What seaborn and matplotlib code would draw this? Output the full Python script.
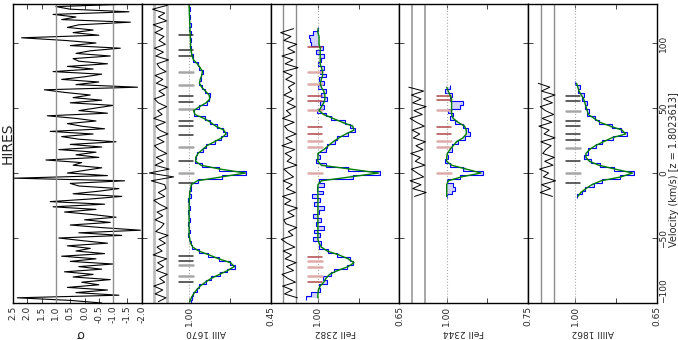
import numpy as np
import matplotlib
matplotlib.use('Agg')
import matplotlib.pyplot as plt
import seaborn as sns

sns.set_theme(style='white')
plt.rcParams['font.family'] = ['DejaVu Sans']
plt.rcParams['axes.edgecolor'] = 'black'
plt.rcParams['axes.linewidth'] = 1.0

### HIRES normalised residual panel (sigma), 2 km/s sampling
vel_sigma = np.arange(-100, 131, 2)
sigma_hires = [-0.6, 0.5, 2.35, -1.2, 0.3, -0.8, 0.6, -0.5, 0.1, -0.9,
               0.4, -0.3, 0.7, -0.6, 0.2, -1.0, 0.5, -0.4, 0.8, -0.7,
               0.3, -0.2, 0.6, -0.8, 0.1, 0.9, -1.3, 0.2, -1.95, -0.6,
               0.5, -0.9, 0.0, -1.1, -0.3, 0.7, -0.4, 1.1, -0.7, 1.2,
               -0.2, -1.3, 0.4, -0.5, -1.2, 0.2, 0.5, -1.4, 2.45, -0.8,
               0.6, 0.0, -0.6, 0.4, 0.1, 1.35, -0.5, 0.3, -0.4, 0.9,
               -0.6, 0.5, -1.1, 0.2, 0.8, -0.3, 1.2, -0.7, 0.1, 0.6,
               -0.4, 0.3, 1.3, -0.8, 0.2, -0.4, -1.0, 0.5, -0.6, 0.4,
               -0.2, 0.7, 1.4, -1.85, 0.3, -0.5, 0.8, 0.0, -0.6, 1.1,
               -0.3, 0.6, -0.8, 0.2, 0.4, -0.9, 0.3, -0.2, -1.25, 0.5,
               -0.4, 0.7, 2.2, -0.5, 0.4, -0.3, 0.6, 0.2, -1.6, 0.8,
               0.3, 1.1, -1.55, 0.5, 1.0, -1.6]

### AlII 1670 (3 km/s pixels)
vel_al2 = np.arange(-99, 130, 3)
model_al2 = [0.995, 0.985, 0.97, 0.95, 0.925, 0.89, 0.85, 0.795, 0.74, 0.695,
             0.72, 0.80, 0.865, 0.935, 0.975, 0.99, 0.995, 1.0, 1.0, 1.0,
             1.0, 1.0, 1.0, 1.0, 1.0, 1.0, 0.998, 0.997, 0.995, 0.99,
             0.985, 0.945, 0.78, 0.62, 0.79, 0.92, 0.955, 0.955, 0.94, 0.91,
             0.88, 0.83, 0.78, 0.75, 0.765, 0.82, 0.855, 0.90, 0.96, 0.97,
             0.93, 0.885, 0.86, 0.865, 0.89, 0.915, 0.93, 0.925, 0.915, 0.91,
             0.925, 0.945, 0.97, 0.98, 0.985, 0.99, 0.99, 0.99, 0.992, 0.993,
             0.994, 0.995, 0.996, 0.997, 0.998, 0.999, 1.0]
flux_al2 = [0.99, 0.98, 0.975, 0.945, 0.93, 0.885, 0.855, 0.79, 0.745, 0.69,
            0.725, 0.795, 0.87, 0.93, 0.98, 0.985, 1.0, 1.005, 0.995, 1.0,
            1.005, 0.995, 1.0, 1.01, 0.995, 1.0, 1.005, 0.99, 1.0, 0.985,
            0.99, 0.94, 0.775, 0.615, 0.795, 0.915, 0.96, 0.95, 0.945, 0.905,
            0.885, 0.825, 0.785, 0.745, 0.77, 0.815, 0.86, 0.895, 0.965, 0.965,
            0.935, 0.88, 0.865, 0.86, 0.895, 0.91, 0.935, 0.92, 0.92, 0.905,
            0.93, 0.94, 0.975, 0.975, 0.99, 0.985, 0.995, 0.985, 0.997, 0.99,
            1.0, 0.99, 1.0, 0.995, 1.003, 0.997, 1.0]
resid_al2 = [0.4, -0.8, 0.9, -0.3, 1.1, -0.6, 0.2, -1.0, 0.7, -0.4,
             0.5, -0.9, 1.2, -0.2, 0.6, -0.7, 0.3, -1.1, 0.8, 0.0,
             -0.5, 0.9, -0.3, 0.6, -1.0, 0.2, 1.1, -0.6, 0.4, -0.8,
             -0.6, 1.5, -2.0, 1.8, -1.3, 0.9, -0.4, 0.7, -0.9, 0.3,
             1.0, -0.5, 0.6, -1.1, 0.2, 0.8, -0.7, 1.1, -0.2, 0.5,
             -0.9, 0.4, 1.0, -0.6, 0.3, -1.0, 0.7, -0.3, 0.9, -0.8,
             0.2, 0.6, -1.2, 0.8, -0.4, 1.0, -0.7, 0.3, -0.5, 0.9,
             -0.3, 1.2, -0.9, 0.4, -0.6, 1.3, -1.0]
comp_al2 = [106, 95, 90, 78, 68, 59, 55, 49, 40, 36, 29.5, 20, 9, 0, -7.5,
            -64, -67.5, -71, -79.5, -83.5]
dark_al2 = [1, 1, 1, 0, 0, 1, 1, 0, 1, 1, 1, 0, 1, 0, 1, 1, 1, 0, 0, 1]

### FeII 2382
vel_fe82 = np.arange(-96, 112, 3)
model_fe82 = [1.0, 1.0, 0.998, 0.99, 0.975, 0.965, 0.95, 0.915, 0.87, 0.845,
              0.87, 0.91, 0.96, 0.985, 0.995, 1.0, 1.0, 1.0, 1.0, 1.0,
              1.0, 1.0, 1.0, 1.0, 1.0, 1.0, 1.0, 1.0, 1.0, 1.0,
              0.985, 0.86, 0.74, 0.86, 0.985, 1.0, 1.0, 1.0, 0.975, 0.955,
              0.935, 0.91, 0.88, 0.845, 0.85, 0.895, 0.935, 0.975, 0.995, 0.985,
              0.975, 0.97, 0.97, 0.975, 0.985, 0.99, 0.985, 0.98, 0.98, 0.985,
              0.99, 0.99, 0.99, 0.99, 0.99, 0.995, 0.995, 0.995, 1.0, 1.0]
flux_fe82 = [1.05, 1.03, 0.99, 0.995, 0.96, 0.98, 0.945, 0.93, 0.875, 0.85,
             0.86, 0.92, 0.955, 0.995, 0.985, 1.02, 0.99, 1.015, 0.975, 1.01,
             0.985, 1.02, 0.995, 0.975, 1.015, 0.99, 1.025, 0.98, 1.005, 0.975,
             0.995, 0.85, 0.735, 0.87, 0.965, 1.01, 0.99, 1.0, 0.965, 0.96,
             0.925, 0.92, 0.87, 0.84, 0.86, 0.885, 0.945, 0.965, 1.005, 0.975,
             0.99, 0.96, 0.985, 0.965, 1.0, 0.975, 0.995, 0.965, 0.99, 0.975,
             1.0, 0.985, 0.975, 1.01, 0.98, 1.03, 1.035, 1.04, 1.02, 1.0]
resid_fe82 = [-1.2, 0.8, -0.4, 1.1, -0.9, 0.3, 1.2, -0.6, 0.5, -1.0,
              0.7, -0.3, 1.0, -0.8, 0.4, 1.3, -0.5, 0.2, -1.1, 0.6,
              0.9, -0.7, 0.3, -1.2, 0.8, -0.2, 1.1, -0.9, 0.5, -0.4,
              1.0, -0.6, 0.2, 0.9, -1.1, 0.4, -0.3, 0.7, -0.8, 1.2,
              -0.4, 0.6, -1.0, 0.3, 0.8, -0.7, 1.1, -0.2, 0.5, -0.9,
              0.4, -0.6, 0.9, -0.3, 0.2, -0.8, 0.6, -0.4, 1.0, -1.3,
              0.7, -0.5, 1.2, -0.8, 0.3, -1.1, 0.9, -0.2, 1.4, -0.6]
comp_fe82 = [96.7, 77.8, 68.2, 59.2, 55.3, 48.8, 35.1, 30, 25, 19.9, 0,
             -64.3, -67.4, -72.6, -79, -83.7]
dark_fe82 = [1, 0, 0, 1, 1, 0, 1, 1, 0, 0, 0, 1, 0, 0, 0, 1]

### FeII 2344
vel_fe44 = np.arange(-18, 67, 3)
model_fe44 = [1.0, 1.0, 1.0, 1.0, 0.995, 0.955, 0.895, 0.94, 0.985, 1.0,
              1.0, 0.998, 0.99, 0.98, 0.97, 0.95, 0.94, 0.94, 0.945, 0.965,
              0.98, 0.985, 0.985, 0.985, 0.985, 0.985, 0.99, 0.995, 1.0]
flux_fe44 = [1.0, 0.985, 0.975, 0.98, 1.0, 0.96, 0.89, 0.95, 0.99, 1.005,
             0.995, 1.0, 0.985, 0.985, 0.965, 0.945, 0.93, 0.935, 0.95, 0.975,
             0.99, 0.98, 0.995, 0.96, 0.95, 0.99, 0.985, 1.005, 0.99]
resid_fe44 = [0.6, -1.2, 0.9, -0.4, 1.3, -0.8, 0.2, 1.1, -1.0, 0.5,
              -0.3, 1.2, -0.7, 0.4, -1.1, 0.8, -0.2, 1.0, -0.9, 0.3,
              1.3, -0.6, 0.7, -1.2, 0.9, -0.4, 1.1, -0.8, 1.5]
comp_fe44 = [59.2, 55.8, 48.1, 35.1, 30, 25, 19.9, 0]
dark_fe44 = [1, 1, 0, 1, 1, 0, 0, 0]

### AlIII 1862
vel_al3 = np.arange(-18, 70, 3)
model_al3 = [0.99, 0.977, 0.955, 0.93, 0.89, 0.805, 0.755, 0.83, 0.90, 0.94,
             0.955, 0.955, 0.94, 0.915, 0.88, 0.845, 0.785, 0.80, 0.85, 0.895,
             0.92, 0.945, 0.95, 0.955, 0.96, 0.965, 0.975, 0.985, 0.99, 0.995]
flux_al3 = [0.995, 0.97, 0.96, 0.92, 0.885, 0.81, 0.75, 0.835, 0.895, 0.935,
            0.965, 0.945, 0.945, 0.91, 0.885, 0.84, 0.78, 0.805, 0.845, 0.9,
            0.915, 0.95, 0.94, 0.96, 0.95, 0.97, 0.965, 0.99, 0.98, 1.0]
resid_al3 = [-0.8, 1.1, -0.5, 0.9, -1.3, 0.6, -0.2, 1.2, -0.9, 0.4,
             -1.1, 0.7, 0.2, -0.6, 1.0, -1.2, 0.5, -0.3, 1.3, -0.7,
             0.8, -1.0, 0.3, 1.1, -0.8, 0.6, -1.2, 0.9, -0.4, 1.4]
comp_al3 = [59, 55.3, 47.5, 40.3, 35.9, 30.2, 25.6, 19.6, 9.5, 0.2, -7.5]
dark_al3 = [1, 1, 0, 1, 1, 1, 1, 0, 1, 0, 1]

panels = [
    dict(name='AlII 1670', vel=vel_al2, obs=flux_al2, mod=model_al2, res=resid_al2,
         comp=comp_al2, dark=dark_al2, bottom=0.45, cols=('#333333', '#a6a6a6'),
         band=('#bdbdbd', 2.0)),
    dict(name='FeII 2382', vel=vel_fe82, obs=flux_fe82, mod=model_fe82, res=resid_fe82,
         comp=comp_fe82, dark=dark_fe82, bottom=0.65, cols=('#b04848', '#dfaaaa'),
         band=('#8c8c8c', 1.0)),
    dict(name='FeII 2344', vel=vel_fe44, obs=flux_fe44, mod=model_fe44, res=resid_fe44,
         comp=comp_fe44, dark=dark_fe44, bottom=0.75, cols=('#b04848', '#dfaaaa'),
         band=('#a0a0a0', 1.3)),
    dict(name='AlIII 1862', vel=vel_al3, obs=flux_al3, mod=model_al3, res=resid_al3,
         comp=comp_al3, dark=dark_al3, bottom=0.65, cols=('#333333', '#a6a6a6'),
         band=('#8c8c8c', 1.0)),
]

W, H = 678, 340
fig = plt.figure(figsize=(W / 100, H / 100), dpi=100)
x0, x1, ytop, ybot = 13, 657, 4, 303
pw = (x1 - x0) / 5.0
axes = []
for i in range(5):
    ax = fig.add_axes([(x0 + i * pw) / W, 1 - ybot / H, pw / W, (ybot - ytop) / H])
    axes.append(ax)

vticks = [-100, -50, 0, 50, 100]

# sigma panel
ax = axes[0]
sns.lineplot(x=sigma_hires, y=vel_sigma, orient='y', estimator=None, sort=True,
             color='black', lw=0.8, ax=ax)
ax.axvline(1.0, color='#909090', lw=1)
ax.axvline(-1.0, color='#909090', lw=1)
ax.set_xlim(2.5, -2.0)
ax.set_xticks(np.arange(-2.0, 2.51, 0.5))
ax.xaxis.set_major_formatter(matplotlib.ticker.FormatStrFormatter('%.1f'))

for ax, p in zip(axes[1:], panels):
    bot = p['bottom']
    top = 1 + 0.58 * (1 - bot)
    span = top - bot
    vel = p['vel']
    edges = np.append(vel - 1.5, vel[-1] + 1.5)
    # residuals above the spectrum, +-1 sigma band
    res_x = top - (0.148 - 0.05 * np.asarray(p['res'])) * span
    ax.axvline(top - 0.098 * span, color=p['band'][0], lw=p['band'][1])
    ax.axvline(top - 0.198 * span, color=p['band'][0], lw=p['band'][1])
    sns.lineplot(x=res_x, y=vel, orient='y', estimator=None, color='black', lw=0.7, ax=ax)
    ax.axvline(1.0, color='#aaaaaa', ls=':', lw=0.8)
    for v, d in zip(p['comp'], p['dark']):
        ax.axhline(v, xmin=0.29, xmax=0.40, color=p['cols'][0] if d else p['cols'][1],
                   lw=1.1 if d else 1.8)
    ax.fill_betweenx(vel, p['obs'], p['mod'], step='mid', color='#8080ff', alpha=0.35, lw=0)
    ax.stairs(p['obs'], edges, orientation='horizontal', baseline=None, color='blue', lw=0.8)
    sns.lineplot(x=p['mod'], y=vel, orient='y', estimator=None, color='green', lw=1.0, ax=ax)
    ax.set_xlim(top, bot)
    ax.set_xticks([bot, (1 + bot) / 2, 1.0])
    ax.set_xticklabels(['%.2f' % bot, '', '1.00'])

for i, ax in enumerate(axes):
    ax.set_ylim(-100, 130)
    ax.set_yticks(vticks)
    ax.set_xlabel('')
    ax.set_ylabel('')
    for s in ax.spines.values():
        s.set_color('black')
        s.set_linewidth(1.0)
    ax.tick_params(axis='both', which='both', direction='in', length=3.5, width=0.7,
                   top=True, bottom=True, left=True, right=True, labelsize=6.5, pad=2,
                   color='#444444')
    ax.tick_params(axis='x', labelrotation=90)
    ax.tick_params(axis='y', labelleft=False, labelright=(i == 4), labelrotation=90, pad=1.5)

ylabs = axes[4].get_yticklabels()
for lab in ylabs:
    lab.set_verticalalignment('center')
ylabs[0].set_verticalalignment('bottom')   # keep -100 clear of the 0.65 label

fig.text(8 / W, 1 - 143 / H, 'HIRES', rotation=90, fontsize=10, ha='center', va='center')
fig.text(80 / W, 1 - 333 / H, 'σ', rotation=180, fontsize=9, ha='center', va='center')
for i, p in enumerate(panels):
    cx = x0 + (i + 1.5) * pw
    fig.text(cx / W, 1 - 333 / H, p['name'], rotation=180, fontsize=6.5, ha='center', va='center')
fig.text(674 / W, 1 - 170 / H, 'Velocity (km/s) [z = 1.8023613]', rotation=90, fontsize=7,
         ha='center', va='center')

fig.savefig('out.png', dpi=100)
